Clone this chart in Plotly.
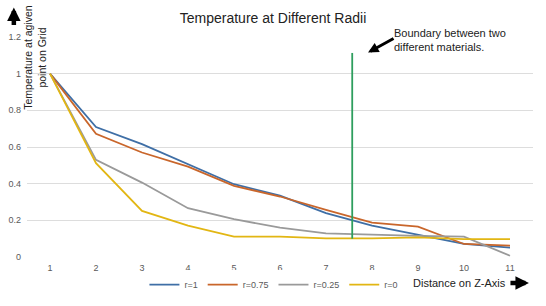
import plotly.graph_objects as go

x_vals = [1, 2, 3, 4, 5, 6, 7, 8, 9, 10, 11]
r1 = [1, 0.709, 0.616, 0.508, 0.397, 0.335, 0.239, 0.171, 0.12, 0.071, 0.051]
r075 = [1, 0.672, 0.57, 0.493, 0.388, 0.33, 0.257, 0.187, 0.166, 0.071, 0.062]
r025 = [1, 0.53, 0.406, 0.266, 0.206, 0.16, 0.129, 0.12, 0.115, 0.111, 0.007]
r0 = [1, 0.512, 0.251, 0.171, 0.111, 0.111, 0.102, 0.102, 0.107, 0.097, 0.097]
series_names = ["r=1", "r=0.75", "r=0.25", "r=0"]
series_colors = ["#3f6fa6", "#c9662b", "#9a9a9a", "#e2b613"]
boundary_x = [7.57, 7.57]
boundary_y = [0.1, 1.113]

fig = go.Figure()
for name, vals, col in zip(series_names, [r1, r075, r025, r0], series_colors):
    fig.add_trace(go.Scatter(x=x_vals, y=vals, mode="lines", name=name,
                             line=dict(color=col, width=1.8)))
fig.add_trace(go.Scatter(x=boundary_x, y=boundary_y, mode="lines", showlegend=False,
                         line=dict(color="#2e9e5e", width=1.8), hoverinfo="skip"))

fig.update_layout(
    width=546, height=306,
    margin=dict(l=27, r=13, t=37, b=49, autoexpand=False),
    paper_bgcolor="white", plot_bgcolor="white",
    font=dict(family="Liberation Sans, Arial, sans-serif", color="#595959", size=9),
    title=dict(text="Temperature at Different Radii", x=0.5, xanchor="center", y=0.94, yanchor="middle",
               font=dict(size=14, color="#222222")),
    xaxis=dict(range=[0.5, 11.5], tickmode="array", tickvals=x_vals, showgrid=False,
               zeroline=False, showline=False, ticks="", automargin=False, ticklabelstandoff=4,
               tickfont=dict(size=9, color="#595959")),
    yaxis=dict(range=[0, 1.2], dtick=0.2, showgrid=True, gridcolor="#dddddd", gridwidth=1,
               zeroline=False, showline=False, ticks="", automargin=False, ticklabelstandoff=5,
               tickfont=dict(size=9, color="#595959"), tickformat="~g"),
    legend=dict(orientation="h", x=0.488, xanchor="center", y=-0.06, yanchor="top",
                font=dict(size=9, color="#595959"), tracegroupgap=0),
    showlegend=True,
)

# Y-axis title
fig.add_annotation(text="Temperature at agiven<br>point on Grid", xref="paper", yref="paper",
                   x=0.016, y=0.906, textangle=-90, showarrow=False,
                   font=dict(size=10.5, color="#222222"), xanchor="center", yanchor="middle")
# X-axis title
fig.add_annotation(text="Distance on Z-Axis", xref="paper", yref="paper", x=0.951, y=-0.118,
                   xanchor="right", yanchor="middle", showarrow=False,
                   font=dict(size=11, color="#222222"))
# Boundary note
fig.add_annotation(text="Boundary between two<br>different materials.", xref="paper", yref="paper",
                   x=0.722, y=0.988, xanchor="left", yanchor="middle", align="left", showarrow=False,
                   font=dict(size=11, color="#222222"))
# Arrow to boundary
fig.add_annotation(x=0.674, y=0.929, xref="paper", yref="paper", ax=27, ay=-15,
                   text="", showarrow=True, arrowhead=2, arrowsize=0.7,
                   arrowwidth=3, arrowcolor="black")
# Up arrow by y-axis
fig.add_annotation(x=-0.026, y=1.134, xref="paper", yref="paper", ax=0, ay=19,
                   text="", showarrow=True, arrowhead=2, arrowsize=0.6,
                   arrowwidth=4.5, arrowcolor="black")
# Right arrow by x-axis title
fig.add_annotation(x=0.992, y=-0.118, xref="paper", yref="paper", ax=-20, ay=0,
                   text="", showarrow=True, arrowhead=2, arrowsize=0.6,
                   arrowwidth=4.5, arrowcolor="black")

fig.write_html("out.html", config={"displayModeBar": False},
               post_script="document.body.style.margin='0';")
